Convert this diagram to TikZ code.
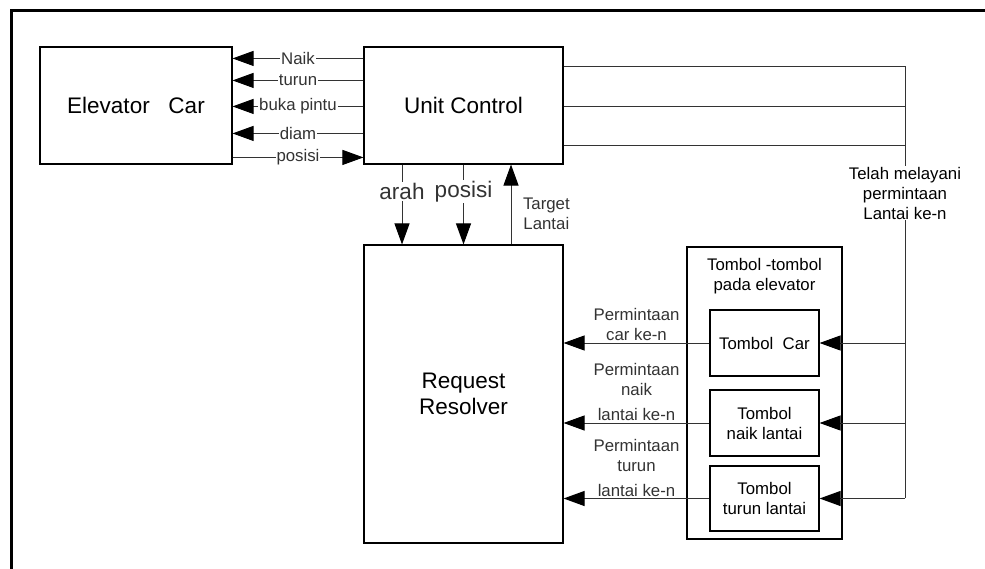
\documentclass[tikz,border=0pt]{standalone}
\usepackage{fontspec}
\setmainfont{Liberation Sans}
\usetikzlibrary{positioning, arrows.meta}

\begin{document}
\begin{tikzpicture}[x=1pt, y=-1pt, every node/.style={inner sep=1.5pt},
  blok/.style={draw, rectangle, line width=1.1pt},
  besar/.style={font=\fontsize{22.5}{26}\selectfont},
  kecil/.style={font=\fontsize{16.8}{20}\selectfont},
  arr/.style={-{Triangle[length=21pt,width=15pt,color=black]}},
  garis/.style={line width=1pt, black!80},
  lbl/.style={kecil, fill=white, inner sep=1pt}]
  \useasboundingbox (0,0) rectangle (985,569);
  \draw[line width=3pt] (11,569) -- (11,11) -- (985,11);

  % blok utama
  \node[blok, besar, minimum width=192pt, minimum height=117pt] (car) at (136,105.5) {Elevator\ \ \ Car};
  \node[blok, besar, minimum width=199pt, minimum height=117pt] (uc) at (463.5,105.5) {Unit Control};
  \node[blok, besar, align=center, minimum width=199pt, minimum height=298pt] (rr) at (463.5,394) {Request\\Resolver};

  % tombol-tombol
  \node[blok, minimum width=155pt, minimum height=292pt] (grp) at (764.5,393) {};
  \node[kecil, align=center, below=10pt of grp.north] (judul) {Tombol -tombol\\pada elevator};
  \node[blok, kecil, minimum width=109pt, minimum height=66pt] (tcar) at (764.5,343) {Tombol\ \ Car};
  \node[blok, kecil, align=center, minimum width=109pt, minimum height=66pt] (tnaik) at (764.5,423) {Tombol\\naik lantai};
  \node[blok, kecil, align=center, minimum width=109pt, minimum height=65pt] (tturun) at (764.5,498.5) {Tombol\\turun lantai};

  % unit control -> elevator car
  \draw[garis, arr] ([yshift=-12pt]uc.north west) -- ([yshift=-12pt]car.north east) node[lbl, midway] {Naik};
  \draw[garis, arr] ([yshift=-34pt]uc.north west) -- ([yshift=-34pt]car.north east) node[lbl, midway] {turun};
  \draw[garis, arr] ([yshift=-60pt]uc.north west) -- ([yshift=-60pt]car.north east) node[lbl, midway] {buka pintu};
  \draw[garis, arr] ([yshift=-87pt]uc.north west) -- ([yshift=-87pt]car.north east) node[lbl, midway] {diam};
  \draw[garis, arr] ([yshift=-111pt]car.north east) -- ([yshift=-111pt]uc.north west) node[lbl, midway] {posisi};

  % umpan balik ke tombol
  \coordinate (bus) at (905,67);
  \coordinate (busend) at (905,498);
  \coordinate (u2) at ([yshift=-60pt]uc.north east);
  \coordinate (u3) at ([yshift=-99pt]uc.north east);
  \draw[garis] ([yshift=-20pt]uc.north east) -| (busend);
  \draw[garis] (u2) -- (u2 -| bus);
  \draw[garis] (u3) -- (u3 -| bus);
  \node[lbl, align=center] (telah) at (905,193) {Telah melayani\\permintaan\\Lantai ke-n};
  \draw[garis, arr] (tcar.east -| bus) -- (tcar.east);
  \draw[garis, arr] (tnaik.east -| bus) -- (tnaik.east);
  \draw[garis, arr] (tturun.east -| bus) -- (tturun.east);

  % permintaan -> request resolver
  \draw[garis, arr] (tcar.west) -- (tcar.west -| rr.east) node[kecil, midway, above, align=center] {Permintaan\\car ke-n};
  \draw[garis, arr] (tnaik.west) -- (tnaik.west -| rr.east) node[kecil, midway, above, align=center] {Permintaan\\naik\\[5pt]lantai ke-n};
  \draw[garis, arr] (tturun.west) -- (tturun.west -| rr.east) node[kecil, midway, above, align=center] {Permintaan\\turun\\[5pt]lantai ke-n};

  % unit control <-> request resolver
  \draw[garis, arr] ([xshift=-61.5pt]uc.south) -- ([xshift=-61.5pt]rr.north) node[lbl, besar, pos=0.34] {arah};
  \draw[garis, arr] (uc.south) -- (rr.north) node[lbl, besar, pos=0.34] {posisi};
  \draw[garis, arr] ([xshift=47.5pt]rr.north) -- ([xshift=47.5pt]uc.south) node[kecil, pos=0.38, right=10pt, align=center] {Target\\Lantai};
\end{tikzpicture}
\end{document}
